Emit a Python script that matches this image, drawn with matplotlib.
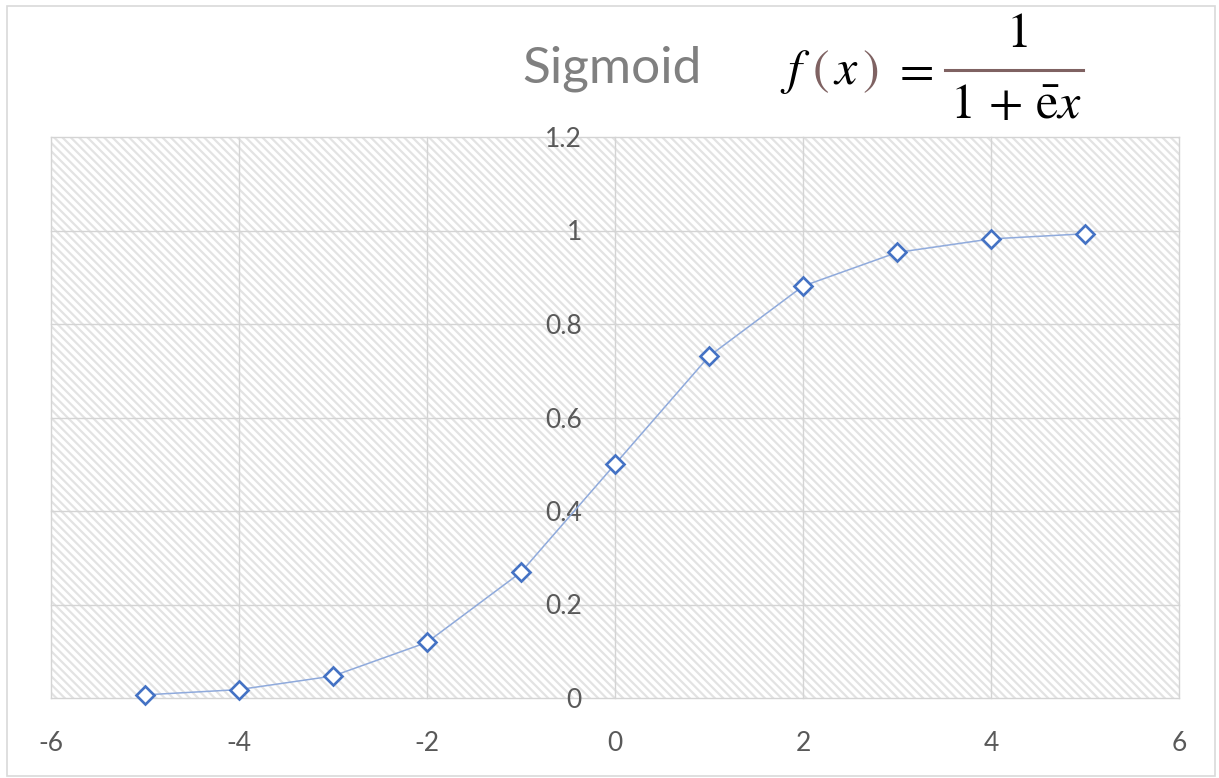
import matplotlib
matplotlib.use("Agg")
import matplotlib.pyplot as plt
from matplotlib.patches import Rectangle
from matplotlib.lines import Line2D

# ---- data ----
x_vals = [-5, -4, -3, -2, -1, 0, 1, 2, 3, 4, 5]
y_vals = [0.0067, 0.018, 0.047, 0.119, 0.269, 0.5, 0.731, 0.881, 0.953, 0.982, 0.993]
x_ticks = [-6, -4, -2, 0, 2, 4, 6]
y_ticks = [0, 0.2, 0.4, 0.6, 0.8, 1.0, 1.2]
y_tick_labels = ["0", "0.2", "0.4", "0.6", "0.8", "1", "1.2"]
title_text = "Sigmoid"

plt.rcParams['hatch.color'] = '#e3e3e3'
plt.rcParams['hatch.linewidth'] = 1.6
plt.rcParams['font.family'] = ['Lato', 'DejaVu Sans']
plt.rcParams['mathtext.fontset'] = 'stix'

W, H = 1219, 778
fig = plt.figure(figsize=(W / 100, H / 100), dpi=100)

def fx(px):
    return px / W

def fy(py):
    return 1 - py / H

# plot area in pixels: left 51, right 1179, top 137, bottom 698
ax = fig.add_axes([fx(51), fy(698), fx(1179) - fx(51), fy(137) - fy(698)])
ax.patch.set_facecolor('white')
ax.patch.set_edgecolor('#e3e3e3')
ax.patch.set_linewidth(0)
ax.patch.set_hatch('\\\\\\\\')

ax.set_xlim(-6, 6)
ax.set_ylim(0, 1.2)
ax.set_xticks(x_ticks)
ax.set_xticklabels([str(t) for t in x_ticks])
ax.set_yticks(y_ticks)
ax.set_yticklabels(y_tick_labels)

for s in ['top', 'right', 'bottom', 'left']:
    ax.spines[s].set_color('none')
ax.spines['left'].set_position(('data', 0))

ax.tick_params(axis='both', length=0, labelsize=19, labelcolor='#595959')
ax.tick_params(axis='x', pad=24)
ax.tick_params(axis='y', pad=24)

ax.grid(True, color='#d4d4d4', linewidth=1.0)
ax.set_axisbelow(True)
for gl in ax.get_xgridlines() + ax.get_ygridlines():
    gl.set_clip_on(False)

ax.plot(x_vals, y_vals, color='#8FAADC', linewidth=1.1, zorder=3,
        marker='D', markersize=9.5, markerfacecolor='white',
        markeredgecolor='#4472C4', markeredgewidth=1.9, clip_on=False)

# figure border
fig.patches.append(Rectangle((fx(7), fy(776)), fx(1215) - fx(7), fy(6) - fy(776),
                             transform=fig.transFigure, fill=False,
                             edgecolor='#d9d9d9', linewidth=1.2))

# title
fig.text(fx(612), fy(82), title_text, ha='center', va='baseline',
         fontsize=37, color='#808080')

# formula pieces
fs = 36
brown = '#7F6262'
fig.text(fx(795), fy(84), r'$f$', ha='center', va='baseline', fontsize=fs, color='black')
fig.text(fx(821), fy(84), r'$($', ha='center', va='baseline', fontsize=fs, color=brown)
fig.text(fx(846), fy(84), r'$x$', ha='center', va='baseline', fontsize=fs, color='black')
fig.text(fx(870), fy(84), r'$)$', ha='center', va='baseline', fontsize=fs, color=brown)
fig.text(fx(913), fy(84), r'$=$', ha='center', va='baseline', fontsize=fs, color='black')
fig.text(fx(1017), fy(47), r'$1$', ha='center', va='baseline', fontsize=fs, color='black')
fig.lines.append(Line2D([fx(945), fx(1083)], [fy(70), fy(70)], transform=fig.transFigure,
                        color=brown, linewidth=2.2))
fig.text(fx(1016), fy(118), r'$1\,+\,\bar{\mathrm{e}}x$', ha='center', va='baseline',
         fontsize=fs, color='black')

fig.savefig('out.png', dpi=100)
